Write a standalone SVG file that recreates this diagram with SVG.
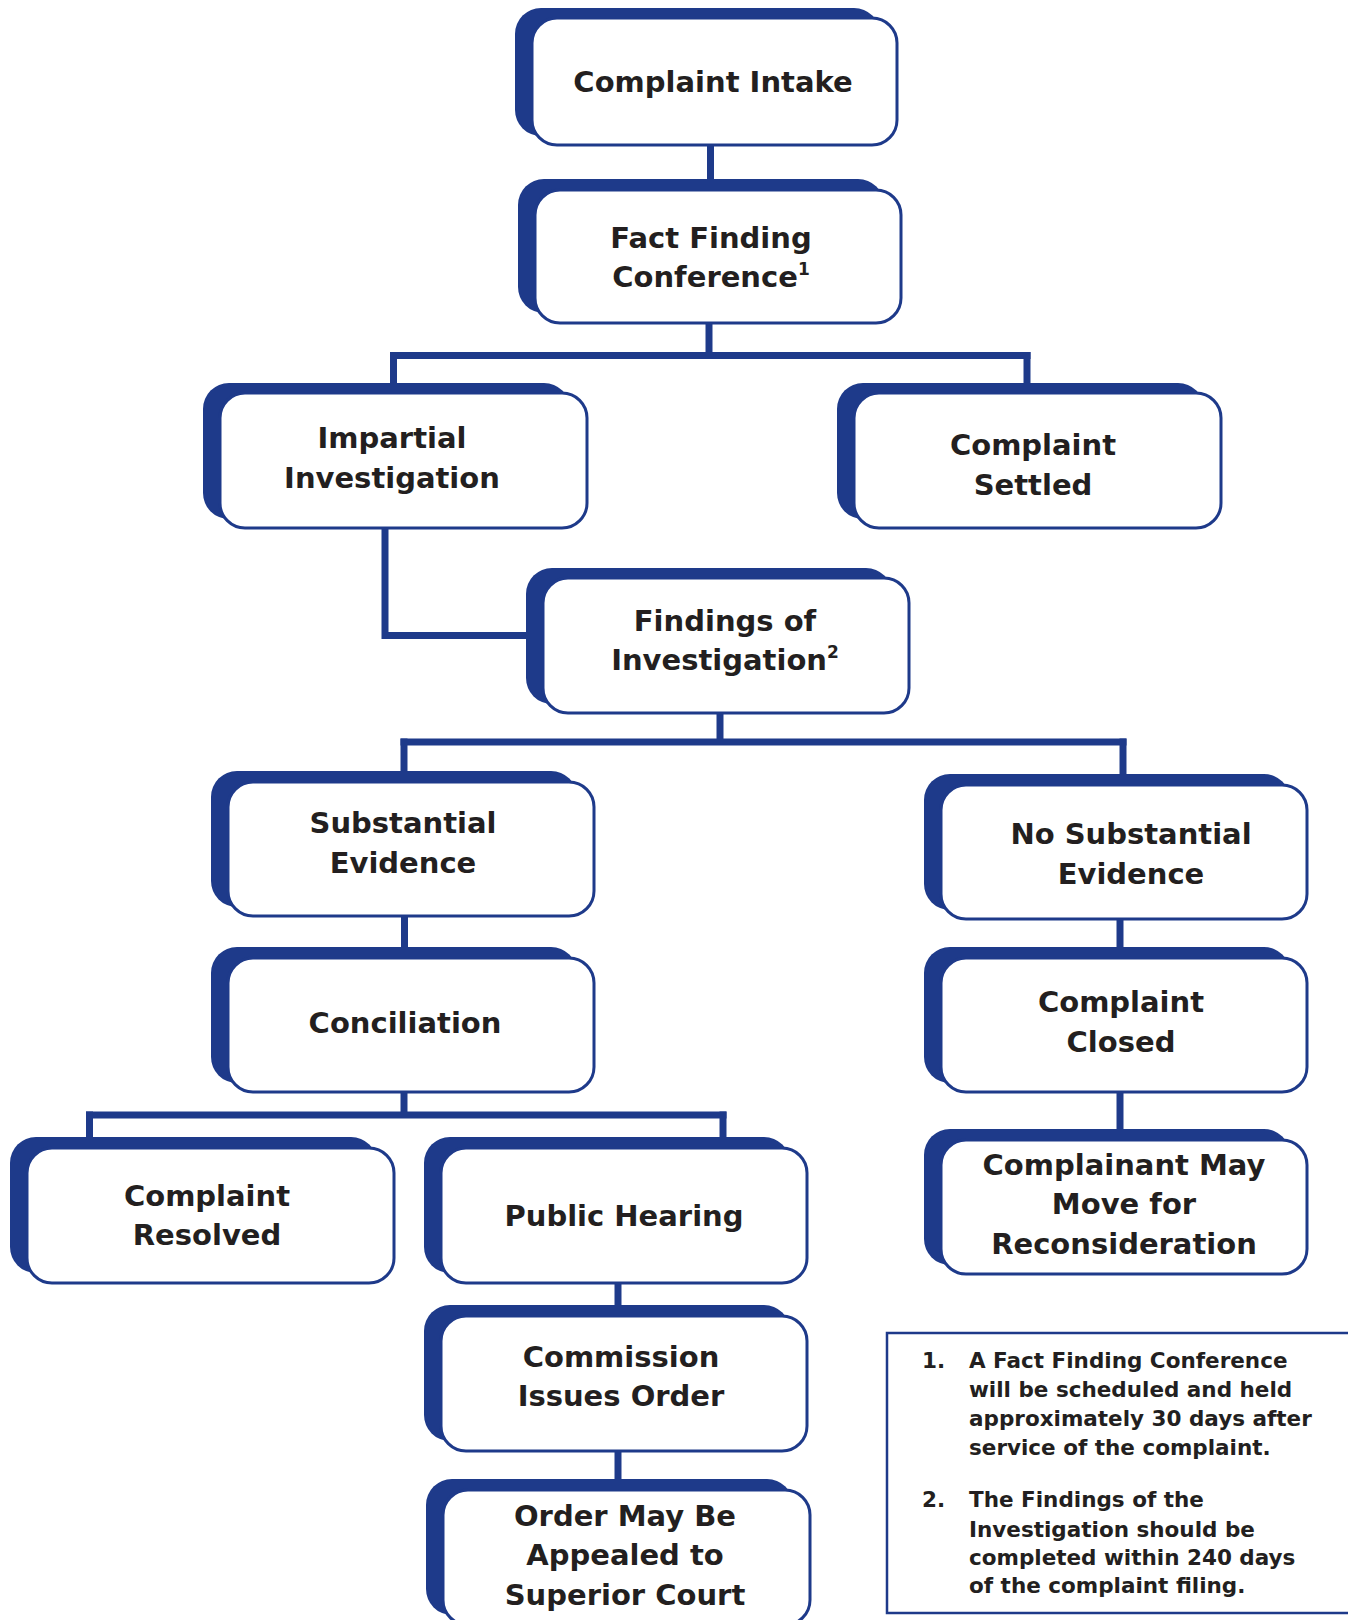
<svg xmlns="http://www.w3.org/2000/svg" width="1348" height="1620" viewBox="0 0 1348 1620">
<style>
.sh{fill:#1e3a8a;}
.bx{fill:#ffffff;stroke:#1e3a8a;stroke-width:3;}
.t{font-family:"DejaVu Sans","Liberation Sans",sans-serif;font-weight:bold;font-size:29px;fill:#231f20;text-anchor:middle;}
.sup{font-size:17px;}
.cn{fill:none;stroke:#1e3a8a;stroke-width:7;stroke-linecap:butt;stroke-linejoin:miter;}
.nt{font-family:"DejaVu Sans","Liberation Sans",sans-serif;font-weight:bold;font-size:21.5px;fill:#231f20;}
.nb{fill:#ffffff;stroke:#1e3a8a;stroke-width:2.5;}
</style>
<rect width="1348" height="1620" fill="#ffffff"/>
<g id="connectors">
<path class="cn" d="M710.5,145 V190"/>
<path class="cn" d="M709,323 V355.5"/>
<path class="cn" d="M390,355.5 H1030.5"/>
<path class="cn" d="M393.5,352 V393"/>
<path class="cn" d="M1027,352 V393"/>
<path class="cn" d="M385,528 V635.5 H543"/>
<path class="cn" d="M720,713 V742"/>
<path class="cn" d="M400.5,742 H1126.5"/>
<path class="cn" d="M404,738.5 V782"/>
<path class="cn" d="M1123,738.5 V785"/>
<path class="cn" d="M404.5,916 V958"/>
<path class="cn" d="M404,1092 V1115"/>
<path class="cn" d="M86,1115 H726.5"/>
<path class="cn" d="M89.5,1111.5 V1148"/>
<path class="cn" d="M723,1111.5 V1148"/>
<path class="cn" d="M618,1283 V1316"/>
<path class="cn" d="M618,1451 V1490"/>
<path class="cn" d="M1120,919 V958"/>
<path class="cn" d="M1120,1092 V1140"/>
</g>
<g id="complaint-intake">
<rect class="sh" x="515" y="8" width="365" height="128" rx="26"/>
<rect class="bx" x="532" y="18" width="365" height="127" rx="25"/>
<text class="t" x="713" y="92">Complaint Intake</text>
</g>
<g id="fact-finding">
<rect class="sh" x="518" y="179" width="366" height="134" rx="26"/>
<rect class="bx" x="535" y="190" width="366" height="133" rx="25"/>
<text class="t" x="711" y="248">Fact Finding</text>
<text class="t" x="711" y="287">Conference<tspan class="sup" dy="-12">1</tspan></text>
</g>
<g id="impartial-investigation">
<rect class="sh" x="203" y="383" width="367" height="136" rx="26"/>
<rect class="bx" x="220" y="393" width="367" height="135" rx="25"/>
<text class="t" x="392" y="448">Impartial</text>
<text class="t" x="392" y="488">Investigation</text>
</g>
<g id="complaint-settled">
<rect class="sh" x="837" y="383" width="367" height="136" rx="26"/>
<rect class="bx" x="854" y="393" width="367" height="135" rx="25"/>
<text class="t" x="1033" y="455">Complaint</text>
<text class="t" x="1033" y="495">Settled</text>
</g>
<g id="findings-of-investigation">
<rect class="sh" x="526" y="568" width="366" height="136" rx="26"/>
<rect class="bx" x="543" y="578" width="366" height="135" rx="25"/>
<text class="t" x="725" y="631">Findings of</text>
<text class="t" x="725" y="670">Investigation<tspan class="sup" dy="-12">2</tspan></text>
</g>
<g id="substantial-evidence">
<rect class="sh" x="211" y="771" width="366" height="136" rx="26"/>
<rect class="bx" x="228" y="782" width="366" height="134" rx="25"/>
<text class="t" x="403" y="833">Substantial</text>
<text class="t" x="403" y="873">Evidence</text>
</g>
<g id="no-substantial-evidence">
<rect class="sh" x="924" y="774" width="366" height="136" rx="26"/>
<rect class="bx" x="941" y="785" width="366" height="134" rx="25"/>
<text class="t" x="1131" y="844">No Substantial</text>
<text class="t" x="1131" y="884">Evidence</text>
</g>
<g id="conciliation">
<rect class="sh" x="211" y="947" width="366" height="136" rx="26"/>
<rect class="bx" x="228" y="958" width="366" height="134" rx="25"/>
<text class="t" x="405" y="1033">Conciliation</text>
</g>
<g id="complaint-closed">
<rect class="sh" x="924" y="947" width="366" height="136" rx="26"/>
<rect class="bx" x="941" y="958" width="366" height="134" rx="25"/>
<text class="t" x="1121" y="1012">Complaint</text>
<text class="t" x="1121" y="1052">Closed</text>
</g>
<g id="complainant-may-move">
<rect class="sh" x="924" y="1129" width="366" height="136" rx="26"/>
<rect class="bx" x="941" y="1140" width="366" height="134" rx="25"/>
<text class="t" x="1124" y="1175">Complainant May</text>
<text class="t" x="1124" y="1214">Move for</text>
<text class="t" x="1124" y="1254">Reconsideration</text>
</g>
<g id="complaint-resolved">
<rect class="sh" x="10" y="1137" width="367" height="136" rx="26"/>
<rect class="bx" x="27" y="1148" width="367" height="135" rx="25"/>
<text class="t" x="207" y="1206">Complaint</text>
<text class="t" x="207" y="1245">Resolved</text>
</g>
<g id="public-hearing">
<rect class="sh" x="424" y="1137" width="366" height="136" rx="26"/>
<rect class="bx" x="441" y="1148" width="366" height="135" rx="25"/>
<text class="t" x="624" y="1226">Public Hearing</text>
</g>
<g id="commission-issues-order">
<rect class="sh" x="424" y="1305" width="366" height="136" rx="26"/>
<rect class="bx" x="441" y="1316" width="366" height="135" rx="25"/>
<text class="t" x="621" y="1367">Commission</text>
<text class="t" x="621" y="1406">Issues Order</text>
</g>
<g id="order-may-be-appealed">
<rect class="sh" x="426" y="1479" width="367" height="136" rx="26"/>
<rect class="bx" x="443" y="1490" width="367" height="135" rx="25"/>
<text class="t" x="625" y="1526">Order May Be</text>
<text class="t" x="625" y="1565">Appealed to</text>
<text class="t" x="625" y="1605">Superior Court</text>
</g>
<g id="notes">
<rect class="nb" x="887" y="1333" width="480" height="280"/>
<text class="nt" x="922" y="1368">1.</text>
<text class="nt" x="969" y="1368">A Fact Finding Conference</text>
<text class="nt" x="969" y="1397">will be scheduled and held</text>
<text class="nt" x="969" y="1426">approximately 30 days after</text>
<text class="nt" x="969" y="1455">service of the complaint.</text>
<text class="nt" x="922" y="1507">2.</text>
<text class="nt" x="969" y="1507">The Findings of the</text>
<text class="nt" x="969" y="1537">Investigation should be</text>
<text class="nt" x="969" y="1565">completed within 240 days</text>
<text class="nt" x="969" y="1593">of the complaint filing.</text>
</g>
</svg>
